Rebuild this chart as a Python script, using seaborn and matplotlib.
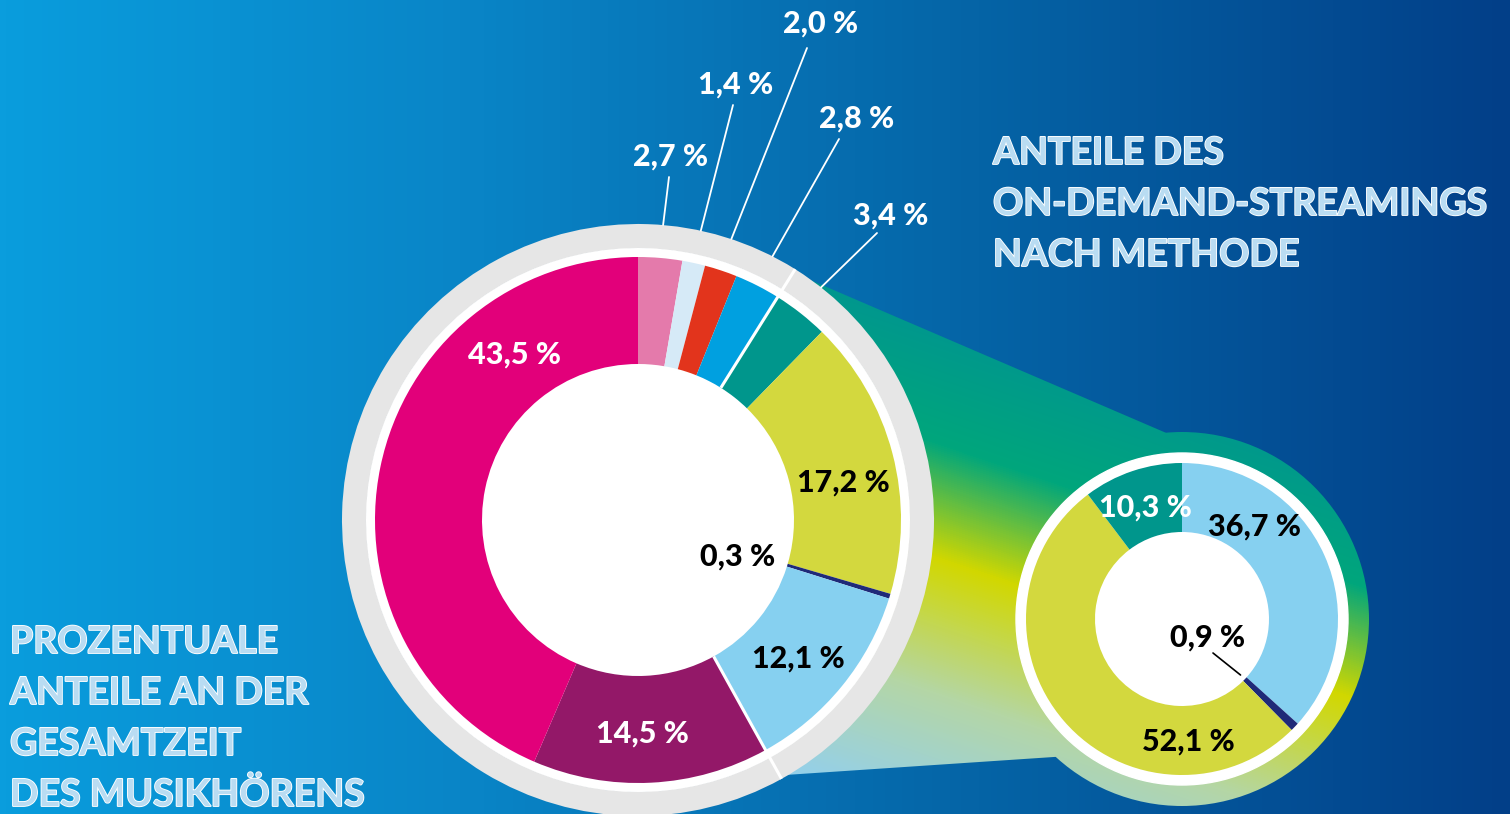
import numpy as np
import matplotlib
matplotlib.use("Agg")
import matplotlib.pyplot as plt
import matplotlib.patheffects as pe
from matplotlib.colors import LinearSegmentedColormap
from matplotlib.patches import Polygon, Circle
import seaborn as sns

sns.set_theme(style="white")
plt.rcParams['font.family'] = ['Lato', 'DejaVu Sans']

# Gesamtzeit des Musikhörens, im Uhrzeigersinn ab 12 Uhr
gesamt_werte = [2.7, 1.4, 2.0, 2.8, 3.4, 17.2, 0.3, 12.1, 14.5, 43.5]
gesamt_farben = ["#e47aab", "#d6eaf7", "#e2341c", "#00a0e0", "#00968c",
                 "#d3d83e", "#1f2a78", "#86d0f0", "#931868", "#e2007a"]
gesamt_textfarben = ["white"] * 5 + ["black", "black", "black", "white", "white"]
streaming_idx = [4, 5, 6, 7]   # diese Segmente sind On-Demand-Streaming

# On-Demand-Streaming nach Methode
methode_werte = [36.7, 0.9, 52.1, 10.3]
methode_farben = ["#86d0f0", "#1f2a78", "#d3d83e", "#00968c"]
methode_textfarben = ["black", "black", "black", "white"]

titel_rechts = ["ANTEILE DES", "ON-DEMAND-STREAMINGS", "NACH METHODE"]
titel_links = ["PROZENTUALE", "ANTEILE AN DER", "GESAMTZEIT", "DES MUSIKHÖRENS"]

# Layout (Pixel)
W, H = 1510, 814
gross_c, gross_r, gross_loch = (638, 520), 263, 156
ring_r, ring_w = 296, 24
klein_c, klein_r, klein_loch = (1182, 619), 156, 87
klein_ring = 187

gesamt_label_pos = [(671, 166), (736, 94), (821, 33), (857, 128), (891, 225),
                    (843, 492), (738, 566), (798, 668), (642, 743), (515, 364)]
gesamt_leader_end = [(669, 177), (733, 105), (807, 48), (839, 139), (877, 233)]
methode_label_pos = [(1255, 536), (1208, 647), (1188, 751), (1145, 517)]


def fmt(v):
    return f"{v:.1f}".replace(".", ",") + " %"


def punkt(c, r, frac):
    phi = 2 * np.pi * frac
    return c[0] + r * np.sin(phi), c[1] - r * np.cos(phi)


fig = plt.figure(figsize=(W / 100, H / 100), dpi=100)
ax = fig.add_axes([0, 0, 1, 1])

# Hintergrund-Verlauf
bg_cmap = LinearSegmentedColormap.from_list(
    "bg", [(0, "#0a9ddd"), (480 / W, "#0984c6"), (980 / W, "#0564a6"), (1, "#023f88")])
xx = np.linspace(0, 1, W)
ax.imshow(np.tile(xx, (H, 1)), cmap=bg_cmap, extent=(0, W, H, 0), aspect="auto", zorder=0)

# Lupen-Verbindung mit Verlauf
total = sum(gesamt_werte)
start_frac = sum(gesamt_werte[:streaming_idx[0]]) / total
end_frac = sum(gesamt_werte[:streaming_idx[-1] + 1]) / total
p1 = punkt(gross_c, ring_r - 4, start_frac)
p4 = punkt(gross_c, ring_r - 4, end_frac)
p2 = punkt(klein_c, klein_ring, -5 / 360)
p3 = punkt(klein_c, klein_ring, 222.5 / 360)
gy, gx = np.mgrid[0:H, 0:W]
t = np.clip((-0.32 * gx + 0.95 * gy) / 480, 0, 1)
lupe_cmap = LinearSegmentedColormap.from_list(
    "lupe", [(0, "#00968f"), (0.25, "#00a67c"), (0.48, "#d2d800"), (0.75, "#b4d6a6"), (1, "#94d0ea")])
poly = Polygon([p1, p2, klein_c, p3, p4, gross_c], closed=True, facecolor="none", edgecolor="none")
ax.add_patch(poly)
im1 = ax.imshow(t, cmap=lupe_cmap, vmin=0, vmax=1, extent=(0, W, H, 0), aspect="auto", zorder=0.5)
im1.set_clip_path(poly)
kreis = Circle(klein_c, klein_ring, facecolor="none", edgecolor="none")
ax.add_patch(kreis)
im2 = ax.imshow(t, cmap=lupe_cmap, vmin=0, vmax=1, extent=(0, W, H, 0), aspect="auto", zorder=0.5)
im2.set_clip_path(kreis)

# großer Donut
ax.add_patch(Circle(gross_c, ring_r - ring_w, color="white", zorder=2))
ax.pie(gesamt_werte, radius=gross_r, center=gross_c, startangle=-90, counterclock=True,
       colors=gesamt_farben, wedgeprops=dict(width=gross_r - gross_loch, linewidth=0, zorder=3))
stream_frac = end_frac - start_frac
ax.pie([stream_frac, 1 - stream_frac], radius=ring_r, center=gross_c,
       startangle=-90 + 360 * start_frac, counterclock=True, colors=["#e6e6e6", "#e6e6e6"],
       wedgeprops=dict(width=ring_w, linewidth=0, zorder=3))
for f in [start_frac, end_frac]:
    a = punkt(gross_c, gross_loch, f)
    b = punkt(gross_c, ring_r, f)
    ax.plot([a[0], b[0]], [a[1], b[1]], color="white", lw=2.2, zorder=4, solid_capstyle="butt")

label_font = dict(fontsize=22, fontweight=900, ha="center", va="baseline", zorder=6)

cum = np.cumsum([0] + gesamt_werte[:-1]) / total
for i, v in enumerate(gesamt_werte):
    x, y = gesamt_label_pos[i]
    ax.text(x, y, fmt(v), color=gesamt_textfarben[i], **label_font)
    if i < len(gesamt_leader_end):
        mid = cum[i] + v / total / 2
        a = punkt(gross_c, ring_r, mid)
        b = gesamt_leader_end[i]
        ax.plot([a[0], b[0]], [a[1], b[1]], color="white", lw=1.3, zorder=5)

# kleiner Donut
ax.add_patch(Circle(klein_c, klein_r + 10, color="white", zorder=2))
ax.pie(methode_werte, radius=klein_r, center=klein_c, startangle=-90, counterclock=True,
       colors=methode_farben, wedgeprops=dict(width=klein_r - klein_loch, linewidth=0, zorder=3))
m_total = sum(methode_werte)
m_cum = np.cumsum([0] + methode_werte[:-1]) / m_total
for i, v in enumerate(methode_werte):
    x, y = methode_label_pos[i]
    ax.text(x, y, fmt(v), color=methode_textfarben[i], **label_font)
mid = m_cum[1] + methode_werte[1] / m_total / 2
b = punkt(klein_c, klein_loch - 6, mid)
ax.plot([1213, b[0]], [653, b[1]], color="black", lw=1.2, zorder=5)

# Titel
kreide = [pe.withStroke(linewidth=1.3, foreground="white")]
for i, zeile in enumerate(titel_rechts):
    ax.text(993, 164 + 51 * i, zeile, color="#b9dcf2", fontsize=27, fontweight="bold",
            ha="left", va="baseline", path_effects=kreide, zorder=6)
for i, zeile in enumerate(titel_links):
    ax.text(10, 653 + 51 * i, zeile, color="#b9dcf2", fontsize=27, fontweight="bold",
            ha="left", va="baseline", path_effects=kreide, zorder=6)

ax.set_xlim(0, W)
ax.set_ylim(H, 0)
ax.set_aspect("equal")
ax.set_axis_off()
fig.savefig("out.png", dpi=100)
